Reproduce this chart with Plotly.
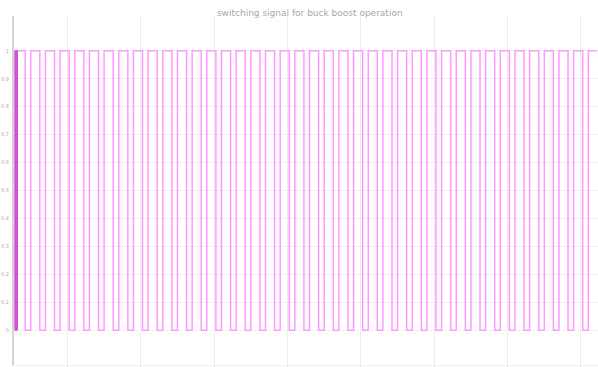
import plotly.graph_objects as go

# Gate signal of the buck-boost switch, times in microseconds
burst_edges = [0.0, 0.3, 0.6, 0.9, 1.2, 1.5, 1.8]
fall_times = [7.2, 17.2, 27.2, 37.2, 47.2, 57.2, 67.2, 77.2, 87.2, 97.2,
              107.2, 117.2, 127.2, 137.2, 147.2, 157.2, 167.2, 177.2, 187.2, 197.2,
              207.2, 217.2, 227.2, 237.2, 247.2, 257.2, 267.2, 277.2, 287.2, 297.2,
              307.2, 317.2, 327.2, 337.2, 347.2, 357.2, 367.2, 377.2, 387.2]
rise_times = [11.0, 21.0, 31.0, 41.0, 51.0, 61.0, 71.0, 81.0, 91.0, 101.0,
              111.0, 121.0, 131.0, 141.0, 151.0, 161.0, 171.0, 181.0, 191.0, 201.0,
              211.0, 221.0, 231.0, 241.0, 251.0, 261.0, 271.0, 281.0, 291.0, 301.0,
              311.0, 321.0, 331.0, 341.0, 351.0, 361.0, 371.0, 381.0, 391.0]
t_end = 397.0
y_ticks = [0, 0.1, 0.2, 0.3, 0.4, 0.5, 0.6, 0.7, 0.8, 0.9, 1]
y_tick_text = ["0", "0.1", "0.2", "0.3", "0.4", "0.5", "0.6", "0.7", "0.8", "0.9", "1"]

# start-up burst: fast toggling between 0 and 1
bx, by = [], []
for i, t in enumerate(burst_edges):
    bx.append(t)
    by.append(i % 2)

# steady-state PWM as a step signal
sx, sy = [burst_edges[-1]], [1]
for f, r in zip(fall_times, rise_times):
    sx += [f, f]
    sy += [1, 0]
    sx += [r, r]
    sy += [0, 1]
sx.append(t_end)
sy.append(1)

fig = go.Figure()
fig.add_trace(go.Scatter(x=sx, y=sy, mode="lines",
                         line=dict(color="rgba(255,40,255,0.5)", width=1.4),
                         showlegend=False, hoverinfo="skip"))
fig.add_trace(go.Scatter(x=bx, y=by, mode="lines", line_shape="hv",
                         line=dict(color="#d24fd6", width=1.5),
                         showlegend=False, hoverinfo="skip"))

fig.update_layout(
    width=598, height=367,
    margin=dict(l=14, r=0, t=16, b=2),
    paper_bgcolor="white", plot_bgcolor="white",
    title=dict(text="switching signal for buck boost operation",
               x=0.518, xanchor="center", y=0.966, yanchor="middle",
               font=dict(family="DejaVu Sans", size=9, color="#a8a8a8")),
    xaxis=dict(range=[-0.4, 397.6], tick0=36, dtick=50, showticklabels=False,
               showgrid=True, gridcolor="#ececec", gridwidth=1,
               zeroline=False, ticks="outside", ticklen=3, tickcolor="#dddddd",
               showline=True, linecolor="#eeeeee", linewidth=1),
    yaxis=dict(range=[-0.125, 1.125], tickvals=y_ticks, ticktext=y_tick_text,
               tickfont=dict(family="DejaVu Sans", size=5, color="#aaaaaa"),
               showgrid=True, gridcolor="#efefef", gridwidth=1,
               zeroline=False, showline=True, linecolor="#d4d4d4", linewidth=2,
               ticks="", ticklabelstandoff=2),
)

fig.write_html("out.html")
